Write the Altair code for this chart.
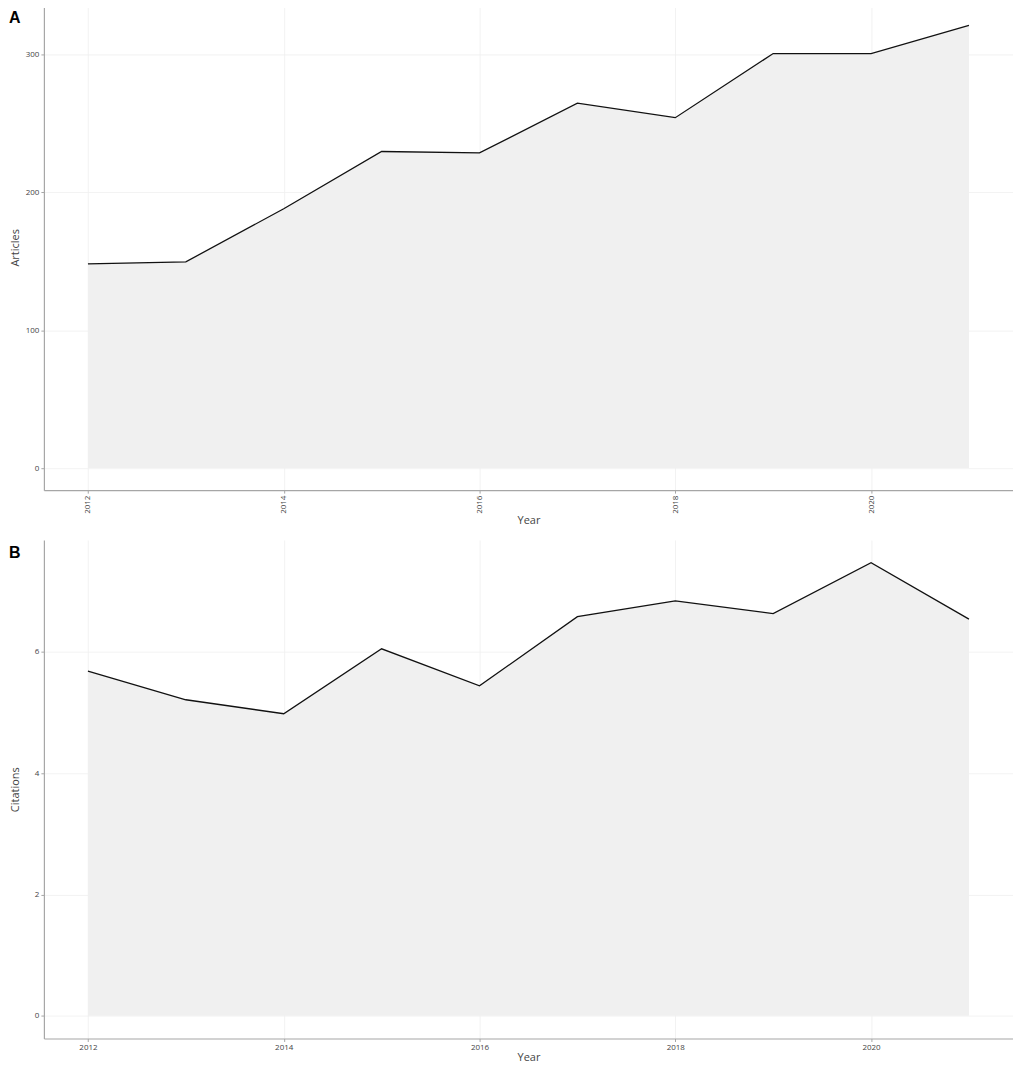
import altair as alt
import pandas as pd

years = [2012, 2013, 2014, 2015, 2016, 2017, 2018, 2019, 2020, 2021]
articles = [148, 149.5, 188, 229.5, 228.5, 264.5, 254, 300.5, 300.5, 321]
citations = [5.68, 5.21, 4.98, 6.05, 5.44, 6.58, 6.84, 6.63, 7.47, 6.54]
x_ticks = [2012, 2014, 2016, 2018, 2020]
articles_ticks = [0, 100, 200, 300]
citations_ticks = [0, 2, 4, 6]

FONT = "Open Sans"
X_DOMAIN = [2011.55, 2021.45]


def panel(df, field, ydomain, yticks, letter, height, label_angle, x_title_pad):
    x = alt.X(
        "Year:Q",
        scale=alt.Scale(domain=X_DOMAIN, nice=False, zero=False),
        axis=alt.Axis(values=x_ticks, format="d", labelAngle=label_angle,
                      title="Year", titlePadding=x_title_pad),
    )
    y = alt.Y(
        f"{field}:Q",
        scale=alt.Scale(domain=ydomain, nice=False, zero=False),
        axis=alt.Axis(values=yticks, title=field, minExtent=17, maxExtent=17,
                      titlePadding=6),
    )
    base = alt.Chart(df)
    area = base.mark_area(color="#f0f0f0", opacity=1).encode(x=x, y=y, y2=alt.datum(0))
    line = base.mark_line(color="#111111", strokeWidth=1.3).encode(x=x, y=y)
    lab = alt.Chart(pd.DataFrame({"t": [letter]})).mark_text(
        align="left", baseline="top", fontSize=16, fontWeight="bold",
        font="Liberation Sans", color="#000000"
    ).encode(x=alt.value(-35), y=alt.value(5), text="t:N")
    return alt.layer(area, line, lab).properties(width=972, height=height)


dfA = pd.DataFrame({"Year": years, "Articles": articles})
dfB = pd.DataFrame({"Year": years, "Citations": citations})

A = panel(dfA, "Articles", [-16, 336], articles_ticks, "A", 487, 270, 1)
B = panel(dfB, "Citations", [-0.3735, 7.8435], citations_ticks, "B", 500, 0, 0)

chart = alt.vconcat(A, B, spacing=14).properties(
    padding={"top": -5, "left": 1, "right": 0, "bottom": 0}
).configure_view(
    stroke=None
).configure_axis(
    domainColor="#a6a6a6", domainWidth=1.2,
    tickColor="#a6a6a6", tickSize=3, tickWidth=1,
    gridColor="#efefef", gridWidth=0.8,
    labelColor="#444444", labelFontSize=8, labelFont=FONT, labelPadding=2,
    titleColor="#444444", titleFontSize=11, titleFont=FONT, titleFontWeight="normal",
)

chart.save("out.html", embed_options={"renderer": "svg", "actions": False})
